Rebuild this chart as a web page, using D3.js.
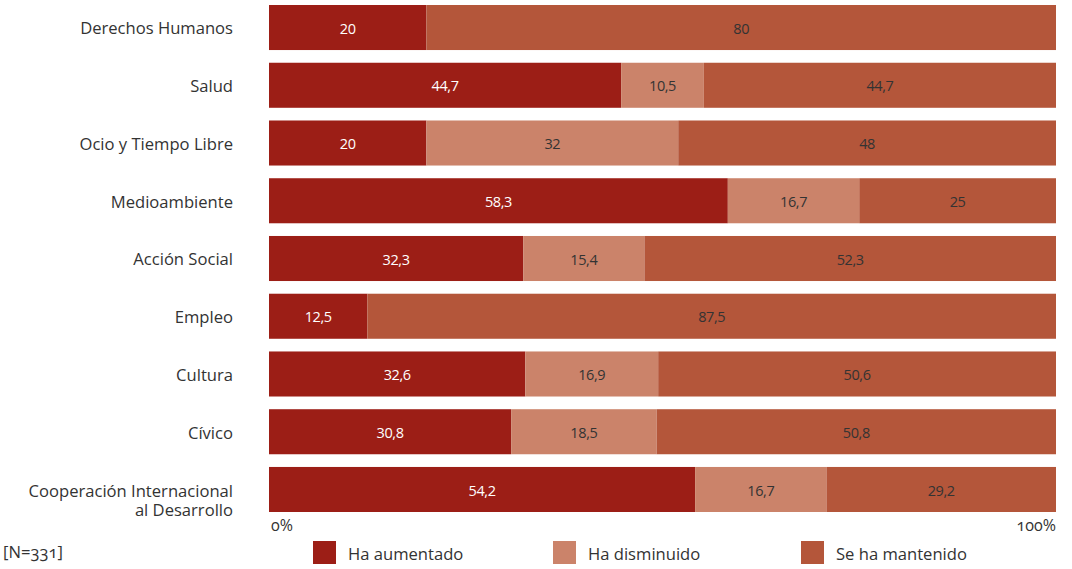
<!DOCTYPE html>
<html><head><meta charset="utf-8">
<script src="https://cdn.jsdelivr.net/npm/d3@7"></script>
<style>body{margin:0;background:#fff}svg{display:block}.onum{font-variant-numeric:oldstyle-nums;font-feature-settings:"onum" 1}</style>
</head><body>
<svg id="c" width="1072" height="569"></svg>
<script>
const categories = ["Derechos Humanos","Salud","Ocio y Tiempo Libre","Medioambiente","Acción Social","Empleo","Cultura","Cívico","Cooperación Internacional\nal Desarrollo"];
const aumentado = [20,44.7,20,58.3,32.3,12.5,32.6,30.8,54.2];
const disminuido = [0,10.5,32,16.7,15.4,0,16.9,18.5,16.7];
const mantenido = [80,44.7,48,25,52.3,87.5,50.6,50.8,29.2];
const seriesNames = ["Ha aumentado","Ha disminuido","Se ha mantenido"];
const colors = ["#9c1e16","#cb836a","#b4563a"];
const textColors = ["#ffffff","#333333","#333333"];
const axisTicks = ["0%","100%"];
const note = "[N=331]";

const font = "'Open Sans', 'DejaVu Sans', sans-serif";
const svg = d3.select("#c");
const rows = categories.map((c,i)=>({cat:c, vals:[aumentado[i],disminuido[i],mantenido[i]]}));
const x = d3.scaleLinear().domain([0,100]).range([269,1056]);
const y = d3.scaleBand().domain(d3.range(categories.length)).range([5,512]).paddingInner(0.22).paddingOuter(0);

const g = svg.append("g");
rows.forEach((r,i)=>{
  let acc = 0;
  const tot = d3.sum(r.vals);
  r.vals.forEach((v,k)=>{
    if(v<=0) return;
    const x0 = acc/tot*100, x1 = (acc+v)/tot*100;
    acc += v;
    g.append("rect").attr("x",x(x0)).attr("y",y(i)).attr("width",x(x1)-x(x0)).attr("height",y.bandwidth()).attr("fill",colors[k]);
    g.append("text").attr("x",(x(x0)+x(x1))/2).attr("y",y(i)+y.bandwidth()/2+1).attr("dy","0.36em")
      .attr("text-anchor","middle").attr("font-family",font).attr("font-size",14.5).attr("fill",textColors[k])
      .style("letter-spacing","-0.4px")
      .text(String(v).replace(".",","));
  });
  const lines = r.cat.split("\n");
  const cy = y(i)+y.bandwidth()/2;
  lines.forEach((l,j)=>{
    const off = lines.length>1 ? (j===0 ? 2 : 21) : 1;
    svg.append("text").attr("text-anchor","end").attr("font-family",font).attr("font-size",16.6).attr("fill","#333")
      .attr("x",233).attr("y",cy+off).attr("dy","0.35em").text(l);
  });
});

svg.append("text").attr("class","onum").attr("x",x(0)+2).attr("y",531).attr("font-family",font).attr("font-size",16).attr("fill","#333").text(axisTicks[0]);
svg.append("text").attr("class","onum").attr("x",x(100)).attr("y",531).attr("text-anchor","end").attr("font-family",font).attr("font-size",16).attr("fill","#333").text(axisTicks[1]);
svg.append("text").attr("class","onum").attr("x",3).attr("y",558).attr("font-family",font).attr("font-size",16.6).attr("fill","#333").text(note);

const legX = [313,553,801];
seriesNames.forEach((s,k)=>{
  svg.append("rect").attr("x",legX[k]).attr("y",541).attr("width",23).attr("height",23).attr("fill",colors[k]);
  svg.append("text").attr("x",legX[k]+35).attr("y",560).attr("font-family",font).attr("font-size",16.6).attr("fill","#333").text(s);
});
</script>
</body></html>
